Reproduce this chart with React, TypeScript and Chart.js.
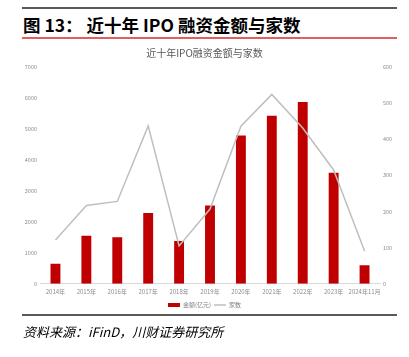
import React, { useEffect, useRef } from "react";
import { Chart, registerables } from "chart.js";

Chart.register(...registerables);

const categories = ["2014年", "2015年", "2016年", "2017年", "2018年", "2019年", "2020年", "2021年", "2022年", "2023年", "2024年11月"];
const amounts = [650, 1553, 1500, 2290, 1378, 2530, 4790, 5430, 5873, 3583, 597];
const counts = [121, 217, 228, 437, 105, 207, 436, 524, 431, 315, 91];
const leftTicks = [0, 1000, 2000, 3000, 4000, 5000, 6000, 7000];
const rightTicks = [0, 100, 200, 300, 400, 500, 600];

const FONT = "'Noto Sans CJK SC', 'Noto Sans', sans-serif";

export default function App() {
  const ref = useRef<HTMLCanvasElement | null>(null);

  useEffect(() => {
    document.body.style.margin = "0";
    const canvas = ref.current;
    if (!canvas) return;
    const chart = new Chart(canvas, {
      type: "bar",
      data: {
        labels: categories,
        datasets: [
          {
            type: "bar",
            label: "金额(亿元)",
            data: amounts,
            backgroundColor: "#C00000",
            borderWidth: 0,
            yAxisID: "y",
            barPercentage: 0.32,
            categoryPercentage: 1,
            pointStyle: "rect",
            order: 1,
          } as any,
          {
            type: "line",
            label: "家数",
            data: counts,
            borderColor: "#BFBFBF",
            borderWidth: 1.5,
            pointRadius: 0,
            pointStyle: "line",
            pointBorderColor: "#BFBFBF",
            pointBorderWidth: 1.5,
            tension: 0,
            yAxisID: "y1",
            order: 0,
          } as any,
        ],
      },
      options: {
        responsive: false,
        animation: false,
        layout: { padding: { left: 0, right: 0, top: 0, bottom: 0 } },
        plugins: {
          title: {
            display: true,
            text: "近十年IPO融资金额与家数",
            color: "#595959",
            font: { family: FONT, size: 10, weight: "normal" },
            padding: { top: 5, bottom: 8 },
          },
          legend: {
            position: "bottom",
            labels: {
              usePointStyle: true,
              pointStyleWidth: 12,
              boxHeight: 4,
              padding: 3,
              color: "#7F7F7F",
              font: { family: FONT, size: 6 },
              sort: (a: any, b: any) => a.datasetIndex - b.datasetIndex,
            },
          },
          tooltip: { enabled: false },
        },
        scales: {
          x: {
            grid: { display: false, drawTicks: false },
            border: { display: true, color: "#D9D9D9", width: 1 },
            ticks: { color: "#8C8C8C", font: { family: FONT, size: 6 }, padding: 4, maxRotation: 0, autoSkip: false },
          },
          y: {
            position: "left",
            min: 0,
            max: 7000,
            grid: { display: false, drawTicks: false },
            border: { display: false },
            ticks: {
              stepSize: 1000,
              color: "#8C8C8C",
              font: { family: FONT, size: 5.5 },
              padding: 3,
              callback: (v: any) => (leftTicks.includes(Number(v)) ? String(v) : ""),
            },
            afterFit: (s: any) => {
              s.width = 40;
            },
          },
          y1: {
            position: "right",
            min: 0,
            max: 600,
            grid: { display: false, drawTicks: false },
            border: { display: false },
            ticks: {
              stepSize: 100,
              color: "#8C8C8C",
              font: { family: FONT, size: 5.5 },
              padding: 3,
              callback: (v: any) => (rightTicks.includes(Number(v)) ? String(v) : ""),
            },
            afterFit: (s: any) => {
              s.width = 29;
            },
          },
        },
      } as any,
    });
    return () => chart.destroy();
  }, []);

  const line = (top: number, color: string, h: number): React.CSSProperties => ({
    position: "absolute",
    left: 22,
    width: 375,
    top,
    height: h,
    background: color,
  });

  return (
    <div style={{ position: "relative", width: 409, height: 357, background: "#fff", overflow: "hidden" }}>
      <div style={line(7, "#595959", 2)} />
      <div
        style={{
          position: "absolute",
          left: 23,
          top: 13,
          fontFamily: FONT,
          fontWeight: 700,
          fontSize: 17.5,
          lineHeight: "24px",
          color: "#000",
          whiteSpace: "pre",
        }}
      >
        {"图 13： 近十年 IPO 融资金额与家数"}
      </div>
      <div style={line(37, "#E06060", 2)} />
      <canvas
        ref={ref}
        width={409}
        height={276}
        style={{ position: "absolute", left: 0, top: 42, width: 409, height: 276 }}
      />
      <div style={line(314, "#595959", 2)} />
      <div
        style={{
          position: "absolute",
          left: 23,
          top: 323,
          fontFamily: FONT,
          fontStyle: "italic",
          fontSize: 13,
          lineHeight: "18px",
          color: "#000",
          whiteSpace: "pre",
        }}
      >
        {"资料来源：iFinD，川财证券研究所"}
      </div>
    </div>
  );
}
